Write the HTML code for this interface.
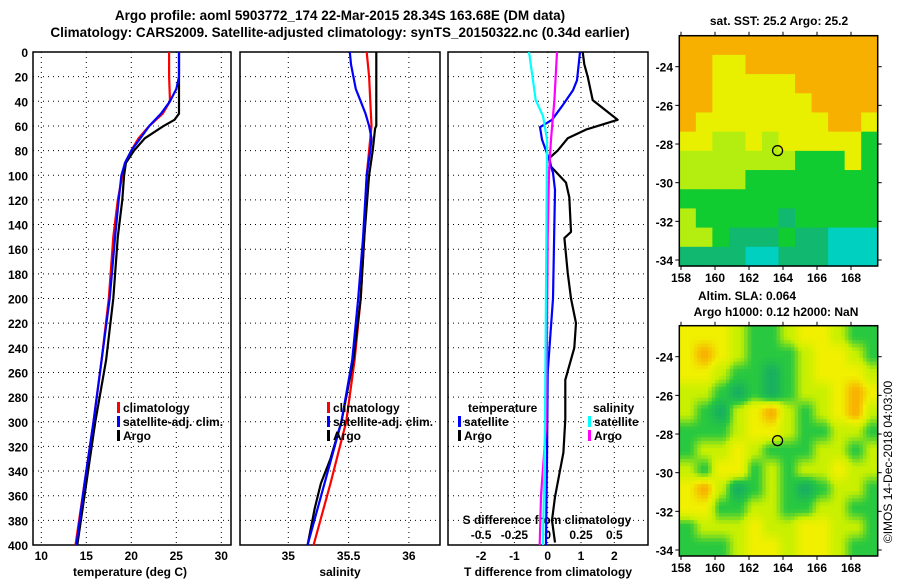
<!DOCTYPE html>
<html><head><meta charset="utf-8"><style>
body{margin:0;background:#fff}
svg{display:block;font-family:"Liberation Sans",sans-serif;font-weight:bold}
</style></head><body>
<svg id="c" width="900" height="580" viewBox="0 0 900 580">
<text x="340" y="20" font-size="13.5" text-anchor="middle">Argo profile: aoml 5903772_174 22-Mar-2015 28.34S 163.68E (DM data)</text>
<text x="340" y="37" font-size="13.5" text-anchor="middle">Climatology: CARS2009. Satellite-adjusted climatology: synTS_20150322.nc (0.34d earlier)</text>
<text x="779" y="25" font-size="12" text-anchor="middle">sat. SST: 25.2 Argo: 25.2</text>
<text x="747" y="300" font-size="12" text-anchor="middle">Altim. SLA: 0.064</text>
<text x="776" y="316" font-size="12" text-anchor="middle">Argo h1000: 0.12 h2000: NaN</text>
<text transform="translate(892,462) rotate(-90)" font-size="12" font-weight="normal" text-anchor="middle">©IMOS 14-Dec-2018 04:03:00</text>
<text x="130" y="576" font-size="12" text-anchor="middle">temperature (deg C)</text>
<text x="340" y="576" font-size="12" text-anchor="middle">salinity</text>
<text x="548" y="576" font-size="12" text-anchor="middle">T difference from climatology</text>
</svg>
<script>
// ---------- data ----------
const depthTicks=[0,20,40,60,80,100,120,140,160,180,200,220,240,260,280,300,320,340,360,380,400];
const tTicks=[10,15,20,25,30];
const sTicks=[35,35.5,36];
const dTTicks=[-2,-1,0,1,2];
const dSTicks=["-0.5","-0.25","0","0.25","0.5"];
const dSTickVals=[-0.5,-0.25,0,0.25,0.5];
const climTD=[0,20,40,50,60,70,80,90,100,120,150,200,250,300,350,400];
const climT=[24.2,24.2,24.3,23.5,22.0,20.8,20.0,19.3,19.0,18.5,18.0,17.5,16.7,15.8,14.8,13.8];
const satTD=[0,20,30,40,50,60,70,80,90,100,120,150,200,250,300,350,400];
const satT=[25.3,25.3,25.0,24.3,23.3,22.0,21.0,20.0,19.3,18.9,18.6,18.2,17.6,16.7,15.8,14.8,13.9];
const argoTD=[0,50,55,60,70,80,90,100,120,150,200,250,300,350,400];
const argoT=[25.3,25.3,24.8,23.6,21.5,20.3,19.4,19.2,19.0,18.5,18.0,17.2,16.0,15.0,14.0];
const climSD=[0,10,20,40,60,80,100,150,200,250,300,350,400];
const climS=[35.65,35.66,35.67,35.68,35.69,35.67,35.65,35.63,35.6,35.55,35.48,35.35,35.21];
const satSD=[0,10,20,30,40,50,60,70,80,100,150,200,250,300,350,400];
const satS=[35.51,35.52,35.54,35.56,35.6,35.64,35.67,35.69,35.68,35.65,35.62,35.58,35.53,35.44,35.3,35.16];
const argoSD=[0,60,62,80,100,150,200,250,300,330,350,370,400];
const argoS=[35.73,35.73,35.72,35.7,35.67,35.63,35.6,35.54,35.44,35.35,35.27,35.22,35.16];
const dTArgoD=[0,10,20,39,55,63,70,80,86,93,106,118,146,151,179,200,220,240,266,298,325,361,380,398];
const dTArgo=[1.05,1.1,1.2,1.35,2.1,1.15,0.6,0.3,0.05,0.1,0.55,0.65,0.7,0.5,0.6,0.7,0.85,0.8,0.53,0.53,0.47,0.22,0.13,0.22];
const dTSatD=[0,23,31,44,55,61,71,84,98,112,200,260,330,400];
const dTSat=[0.97,0.88,0.76,0.43,0.13,-0.23,-0.17,0,0.16,0.22,0.16,0.0,-0.02,-0.05];
const dSSatD=[0,23,39,52,71,150,300,400];
const dSSat=[-0.14,-0.11,-0.09,-0.035,-0.005,-0.01,-0.02,-0.035];
const dSArgoD=[0,39,71,98,150,300,360,400];
const dSArgo=[0.07,0.05,0.025,0.01,0,-0.01,-0.05,-0.06];
const lonTicks=[158,160,162,164,166,168];
const latTicks=[24,26,28,30,32,34];
const sstGrid=[
[5,5,5,5,5,5,5,5,5,5,5,5],[5,5,4,4,5,5,5,5,5,5,5,5],[5,5,4,4,4,4,4,5,5,5,5,5],
[5,5,4,4,4,4,4,4,5,5,5,5],[5,4,4,4,4,4,4,4,4,5,5,4],[4,4,3,3,4,3,4,4,4,4,4,2],
[3,3,3,3,3,3,3,2,2,2,4,2],[3,3,3,3,2,2,2,2,2,2,2,2],[2,2,2,2,2,2,2,2,2,2,2,2],
[3,2,2,2,2,2,1,2,2,2,2,2],[3,3,2,1,1,1,2,1,1,0,0,0],[1,1,1,1,0,0,1,1,1,0,0,0]];
const slaGrid=[
[4,4,4,3,2,2,3,4,4,3,2,2],[4,5,4,3,2,2,2,3,4,4,3,2],[4,4,3,2,2,1,2,3,4,4,4,3],
[3,3,2,1,2,1,2,3,3,4,5,4],[3,2,1,3,4,5,3,2,3,4,5,3],[2,2,2,3,4,4,3,2,2,3,3,2],
[2,3,3,4,3,2,2,2,3,3,2,3],[3,2,4,4,2,3,2,3,3,4,3,3],[4,5,3,1,2,3,2,1,2,3,3,2],
[4,4,2,2,3,3,2,2,3,3,2,2],[2,3,3,3,4,3,3,4,4,3,3,2],[2,2,2,3,4,4,3,4,4,3,2,2]];
const argoLon=163.68, argoLat=28.34;
const palette=['#00d0c0','#10b870','#10cc30','#b4ee10','#e8f000','#f8b000'];
const slaPalette=['#00d0b0','#18b060','#28c840','#c8f000','#f0f000','#f8b000'];

// ---------- drawing ----------
const svg=document.getElementById('c');const NS='http://www.w3.org/2000/svg';
function mk(t,a,p){const e=document.createElementNS(NS,t);for(const k in a)e.setAttribute(k,a[k]);(p||svg).appendChild(e);return e;}
const Y=d=>52+d*1.2325;
const XT=t=>41.3+(t-10)*9;
const XS=s=>288.3+(s-35)*120.6;
const XdT=v=>547.7+v*33.3;
const XdS=v=>547.7+v*133.3;
const panels=[[33,231],[240,440],[448,648]];
panels.forEach((p,i)=>{
  const r=mk('rect',{x:p[0],y:52,width:p[1]-p[0],height:493,fill:'none',stroke:'#000','stroke-width':1.5});
  
  
  depthTicks.forEach(d=>{if(d>0&&d<400){const g=mk('line',{x1:p[0],x2:p[1],y1:Y(d),y2:Y(d),stroke:'#000','stroke-dasharray':'1 4','stroke-width':1});
    
    }});
});
depthTicks.forEach(d=>{const t=mk('text',{x:28,y:Y(d)+5,'font-size':12,'text-anchor':'end'});t.textContent=d;
  
  });
function vgrid(vals,fx,labels,ly,fs,name){vals.forEach((v,i)=>{const x=fx(v);
  const g=mk('line',{x1:x,x2:x,y1:52,y2:545,stroke:'#000','stroke-dasharray':'1 4'});
  
  
  const t=mk('text',{x:x,y:ly,'font-size':fs,'text-anchor':'middle'});t.textContent=labels[i];
  
  });}
vgrid(tTicks,XT,tTicks,560,12,'temperature');
vgrid(sTicks,XS,sTicks,560,12,'salinity');
vgrid(dTTicks,XdT,dTTicks,560,12,'tdiff');
dSTickVals.forEach((v,i)=>{const t=mk('text',{x:XdS(v),y:539,'font-size':12,'text-anchor':'middle'});t.textContent=dSTicks[i];
  
  });
const sl=mk('text',{x:547,y:524,'font-size':12,'text-anchor':'middle'});sl.textContent='S difference from climatology';


function line(ds,vs,fx,col,name){const pts=ds.map((d,i)=>fx(vs[i]).toFixed(1)+','+Y(d).toFixed(1)).join(' ');
  const l=mk('polyline',{points:pts,fill:'none',stroke:col,'stroke-width':2.2,'stroke-linejoin':'round'});
  
  }
line(climTD,climT,XT,'#f00','temp-climatology-line');
line(argoTD,argoT,XT,'#000','temp-argo-line');
line(satTD,satT,XT,'#00f','temp-satellite-line');
line(climSD,climS,XS,'#f00','sal-climatology-line');
line(argoSD,argoS,XS,'#000','sal-argo-line');
line(satSD,satS,XS,'#00f','sal-satellite-line');
line(dTArgoD,dTArgo,XdT,'#000','tdiff-argo-line');
line(dTSatD,dTSat,XdT,'#00f','tdiff-satellite-line');
line(dSArgoD,dSArgo,XdS,'#f0f','sdiff-argo-line');
line(dSSatD,dSSat,XdS,'#0ff','sdiff-satellite-line');
function leg(x,y,col,txt,name){const m=mk('rect',{x:x,y:y-10,width:3,height:11,fill:col});
  
  
  const t=mk('text',{x:x+6,y:y,'font-size':12});t.textContent=txt;
  
  }
leg(117,412,'#f00','climatology','legend-climatology');
leg(117,426,'#00f','satellite-adj. clim.','legend-satellite-adj');
leg(117,440,'#000','Argo','legend-argo');
leg(327,412,'#f00','climatology','legend-climatology-2');
leg(327,426,'#00f','satellite-adj. clim.','legend-satellite-adj-2');
leg(327,440,'#000','Argo','legend-argo-2');
const lt=mk('text',{x:468,y:412,'font-size':12});lt.textContent='temperature';


leg(458,426,'#00f','satellite','legend-t-satellite');
leg(458,440,'#000','Argo','legend-t-argo');
const ls=mk('text',{x:593,y:412,'font-size':12});ls.textContent='salinity';


leg(588,426,'#0ff','satellite','legend-s-satellite');
leg(588,440,'#f0f','Argo','legend-s-argo');

// maps
function hex(c){return [1,3,5].map(i=>parseInt(c.substr(i,2),16));}
const palRGB=slaPalette.map(hex);
function cmap(v){v=Math.max(0,Math.min(5,v));const i=Math.min(4,Math.floor(v)),t=v-i;
  const a=palRGB[i],b=palRGB[i+1];return 'rgb('+a.map((x,k)=>Math.round(x+(b[k]-x)*t)).join(',')+')';}
function sample(grid,fx,fy){const nr=grid.length,nc=grid[0].length;
  let x=fx*nc-0.5,y=fy*nr-0.5;x=Math.max(0,Math.min(nc-1,x));y=Math.max(0,Math.min(nr-1,y));
  const x0=Math.min(nc-2,Math.floor(x)),y0=Math.min(nr-2,Math.floor(y));const tx=x-x0,ty=y-y0;
  const s=t=>t*t*(3-2*t);const a=s(tx),b=s(ty);
  return grid[y0][x0]*(1-a)*(1-b)+grid[y0][x0+1]*a*(1-b)+grid[y0+1][x0]*(1-a)*b+grid[y0+1][x0+1]*a*b;}
function map(grid,top,bot,lat24,lat34,smooth,name){
  const L=679.3,R=877.7;const LX=lon=>681+(lon-158)*17;const LY=lat=>lat24+(lat-24)*(lat34-lat24)/10;
  const g=mk('g',{});
  
  
  if(smooth){const px=3.6;const nx=Math.ceil((R-L)/px),ny=Math.ceil((bot-top)/px);
    for(let j=0;j<ny;j++)for(let i=0;i<nx;i++){
      const v=sample(grid,(i+0.5)/nx,(j+0.5)/ny);
      const e=mk('rect',{x:(L+i*px).toFixed(1),y:(top+j*px).toFixed(1),width:Math.min(px+0.4,R-L-i*px).toFixed(1),height:Math.min(px+0.4,bot-top-j*px).toFixed(1),fill:cmap(v)},g);
      
      }
  } else {
    const nr=grid.length,nc=grid[0].length;const cw=(R-L)/nc,ch=(bot-top)/nr;
    grid.forEach((row,r)=>row.forEach((v,c)=>{const e=mk('rect',{x:L+c*cw,y:top+r*ch,width:cw+0.6,height:ch+0.6,fill:palette[v]},g);
      
      }));
  }
  const fr=mk('rect',{x:L,y:top,width:R-L,height:bot-top,fill:'none',stroke:'#000','stroke-width':1.5});
  
  
  lonTicks.forEach(lo=>{const t=mk('text',{x:LX(lo),y:bot+16,'font-size':12,'text-anchor':'middle'});t.textContent=lo;
    
    
    mk('line',{x1:LX(lo),x2:LX(lo),y1:bot,y2:bot+4,stroke:'#000'});mk('line',{x1:LX(lo),x2:LX(lo),y1:top,y2:top-4,stroke:'#000'});});
  latTicks.forEach(la=>{const t=mk('text',{x:673,y:LY(la)+5,'font-size':12,'text-anchor':'end'});t.textContent='-'+la;
    
    
    mk('line',{x1:L,x2:L-4,y1:LY(la),y2:LY(la),stroke:'#000'});mk('line',{x1:R,x2:R+4,y1:LY(la),y2:LY(la),stroke:'#000'});});
  const c=mk('circle',{cx:LX(argoLon),cy:LY(argoLat),r:5,fill:'none',stroke:'#000','stroke-width':1.3});
  
  
}
map(sstGrid,35.7,266,66.7,260,false,'sst-map');
map(slaGrid,325.7,556,356.7,550,true,'sla-map');
</script>
</body></html>
